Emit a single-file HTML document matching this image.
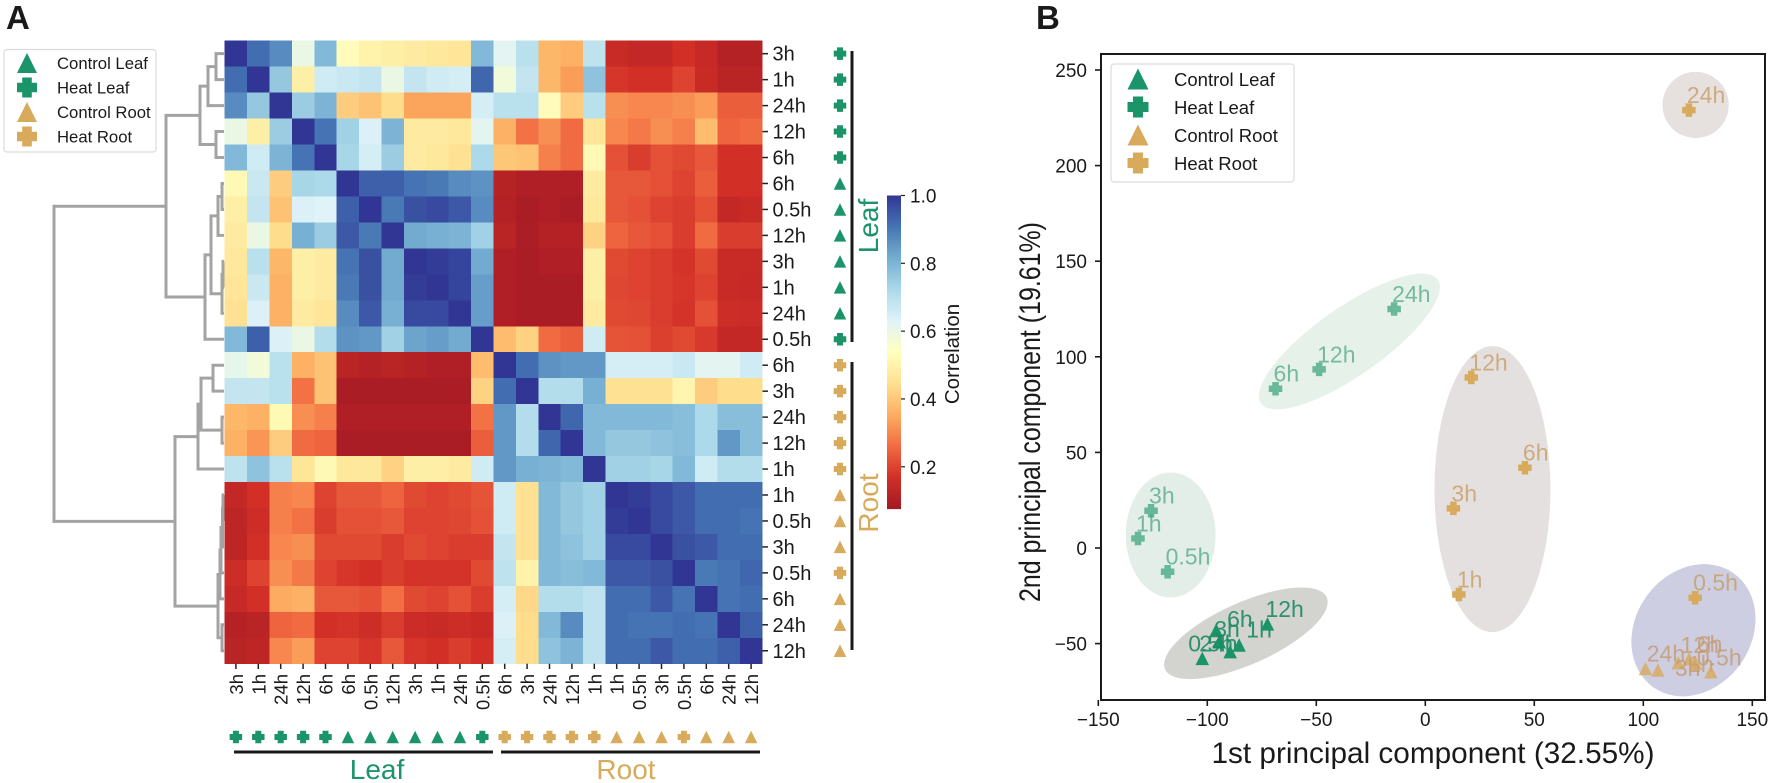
<!DOCTYPE html>
<html lang="en">
<head>
<meta charset="utf-8">
<title>Correlation heatmap and PCA</title>
<style>
html,body{margin:0;padding:0;background:#fff;}
svg{display:block;font-family:"Liberation Sans",sans-serif;}
text{fill:#1a1a1a;}
</style>
</head>
<body>
<svg id="figure" xmlns="http://www.w3.org/2000/svg" width="1772" height="783" viewBox="0 0 1772 783">
  <rect x="0" y="0" width="1772" height="783" fill="#fff"/>
  <text x="6" y="29" font-size="33" font-weight="bold">A</text>
  <text x="1036" y="29" font-size="33" font-weight="bold">B</text>

  <g id="dendrogram" fill="none" stroke="#a3a3a3" stroke-width="3"></g>
  <g id="heatmap" shape-rendering="crispEdges"></g>
  <g id="heatAxes"></g>

  <rect x="850.5" y="51" width="3" height="291" fill="#1a1a1a"/>
  <rect x="850.5" y="362" width="3" height="288" fill="#1a1a1a"/>
  <text transform="translate(878,226) rotate(-90)" text-anchor="middle" font-size="28" style="fill:#1b9469">Leaf</text>
  <text transform="translate(878,503) rotate(-90)" text-anchor="middle" font-size="28" style="fill:#d8aa5c">Root</text>
  <rect x="234" y="750.5" width="259" height="3" fill="#1a1a1a"/>
  <rect x="501" y="750.5" width="259" height="3" fill="#1a1a1a"/>
  <text x="377" y="779" text-anchor="middle" font-size="28" style="fill:#1b9469">Leaf</text>
  <text x="626" y="779" text-anchor="middle" font-size="28" style="fill:#d8aa5c">Root</text>

  <g id="colorbar"></g>
  <text transform="translate(959,354) rotate(-90)" text-anchor="middle" font-size="20.5">Correlation</text>

  <g>
    <rect x="4" y="49.5" width="152" height="102.5" rx="3" fill="#fff" stroke="#dcdcdc" stroke-width="1.2"/>
    <g id="legendAMarkers"></g>
    <text x="57" y="69" font-size="16.7">Control Leaf</text>
    <text x="57" y="93.5" font-size="16.7">Heat Leaf</text>
    <text x="57" y="118" font-size="16.7">Control Root</text>
    <text x="57" y="142.5" font-size="16.7">Heat Root</text>
  </g>

  <g id="pcaEllipses"></g>
  <g id="pcaPoints"></g>
  <rect x="1101" y="54" width="664" height="646" fill="none" stroke="#1a1a1a" stroke-width="2"/>
  <g id="pcaAxes"></g>
  <text x="1433" y="763" text-anchor="middle" font-size="30" textLength="443" lengthAdjust="spacingAndGlyphs">1st principal component (32.55%)</text>
  <text transform="translate(1040,412) rotate(-90)" text-anchor="middle" font-size="30" textLength="380" lengthAdjust="spacingAndGlyphs">2nd principal component (19.61%)</text>

  <g>
    <rect x="1111" y="64" width="183" height="118" rx="3" fill="#fff" fill-opacity="0.85" stroke="#dcdcdc" stroke-width="1.2"/>
    <g id="legendBMarkers"></g>
    <text x="1174" y="86" font-size="18.5">Control Leaf</text>
    <text x="1174" y="114" font-size="18.5">Heat Leaf</text>
    <text x="1174" y="142" font-size="18.5">Control Root</text>
    <text x="1174" y="170" font-size="18.5">Heat Root</text>
  </g>
</svg>

<script>
/* ---------- heatmap data ---------- */
const sampleLabels = ["3h","1h","24h","12h","6h","6h","0.5h","12h","3h","1h","24h","0.5h","6h","3h","24h","12h","1h","1h","0.5h","3h","0.5h","6h","24h","12h"];
const sampleGroups = ["HL","HL","HL","HL","HL","CL","CL","CL","CL","CL","CL","HL","HR","HR","HR","HR","HR","CR","CR","CR","HR","CR","CR","CR"];
const correlation = [
[1.00,.92,.87,.60,.79,.53,.50,.49,.48,.47,.46,.79,.62,.70,.37,.36,.69,.15,.14,.14,.17,.145,.11,.11],
[.92,1.00,.76,.49,.66,.67,.68,.60,.68,.66,.65,.93,.58,.68,.37,.33,.77,.18,.17,.17,.20,.15,.12,.12],
[.87,.76,1.00,.75,.80,.41,.39,.44,.34,.34,.34,.65,.70,.70,.53,.41,.70,.31,.30,.30,.31,.33,.24,.24],
[.60,.49,.75,1.00,.91,.74,.64,.80,.48,.48,.47,.62,.36,.27,.31,.26,.46,.30,.28,.31,.29,.38,.25,.26],
[.79,.66,.80,.91,1.00,.73,.65,.75,.48,.47,.45,.72,.40,.39,.29,.26,.52,.22,.19,.22,.21,.23,.17,.17],
[.52,.67,.41,.73,.72,1.00,.94,.94,.91,.90,.87,.86,.115,.10,.10,.10,.48,.23,.23,.22,.20,.24,.17,.17],
[.49,.68,.39,.64,.63,.94,1.00,.90,.96,.97,.95,.87,.11,.09,.10,.09,.47,.23,.22,.20,.19,.22,.14,.15],
[.48,.60,.44,.81,.75,.95,.90,1.00,.82,.81,.80,.74,.12,.095,.11,.11,.42,.25,.23,.22,.19,.26,.19,.19],
[.47,.70,.37,.49,.48,.91,.96,.82,1.00,.99,.98,.82,.10,.09,.10,.10,.49,.21,.20,.19,.175,.21,.15,.15],
[.46,.67,.36,.49,.48,.90,.96,.82,.99,1.00,.98,.84,.10,.09,.09,.09,.49,.205,.20,.19,.18,.20,.15,.145],
[.45,.64,.36,.48,.46,.87,.95,.81,.97,.97,1.00,.84,.10,.09,.09,.09,.48,.21,.205,.19,.175,.22,.16,.155],
[.79,.94,.64,.60,.71,.86,.85,.74,.83,.84,.82,1.00,.38,.42,.26,.24,.66,.225,.22,.195,.21,.185,.14,.14],
[.61,.58,.70,.36,.39,.12,.11,.12,.11,.10,.10,.38,1.00,.92,.86,.85,.85,.65,.65,.65,.67,.62,.62,.66],
[.68,.68,.70,.27,.39,.09,.09,.09,.09,.09,.09,.42,.92,1.00,.71,.71,.81,.45,.45,.45,.51,.41,.44,.44],
[.37,.36,.52,.31,.29,.10,.10,.10,.10,.10,.10,.27,.85,.71,1.00,.93,.79,.79,.79,.79,.78,.72,.78,.78],
[.36,.32,.41,.26,.25,.09,.09,.09,.09,.09,.09,.24,.85,.71,.93,1.00,.79,.76,.76,.77,.78,.72,.85,.78],
[.69,.77,.70,.46,.52,.47,.47,.42,.49,.49,.48,.66,.85,.81,.80,.79,1.00,.74,.74,.73,.79,.66,.71,.71],
[.14,.17,.29,.30,.20,.23,.23,.25,.21,.20,.21,.225,.66,.45,.79,.76,.74,1.00,.99,.97,.95,.92,.92,.92],
[.13,.16,.29,.27,.19,.22,.22,.23,.20,.20,.205,.22,.66,.45,.79,.76,.74,.99,1.00,.97,.95,.92,.92,.91],
[.13,.17,.30,.31,.21,.21,.21,.19,.21,.20,.19,.19,.68,.45,.79,.77,.74,.97,.97,1.00,.96,.95,.92,.92],
[.16,.20,.31,.28,.20,.18,.17,.19,.175,.175,.175,.21,.69,.50,.79,.78,.79,.95,.95,.96,1.00,.90,.91,.93],
[.145,.17,.35,.36,.23,.23,.22,.265,.21,.20,.22,.19,.65,.43,.71,.71,.69,.92,.92,.95,.91,1.00,.91,.92],
[.11,.12,.25,.26,.17,.175,.16,.19,.155,.15,.16,.15,.64,.44,.79,.87,.69,.92,.91,.91,.92,.91,1.00,.94],
[.12,.13,.30,.33,.20,.20,.18,.23,.18,.17,.19,.17,.65,.44,.77,.80,.69,.92,.92,.95,.92,.92,.94,1.00]
];
const colorbarTicks = [0.2,0.4,0.6,0.8,1.0];
const rdYlBuStops = ["#a31a24","#d22f27","#f26c42","#fdae61","#fee090","#ffffbf","#e0f3f8","#abd9e9","#74add1","#4575b4","#313695"];
/* dendrogram: [merge distance, childA, childB]; integers are leaf rows */
const dendrogramTree = [170,
  [58,
    [24,[16,[8,0,1],2],[8,3,4]],
    [19,[13,[6,[2,5,6],7],[2,[1,8,9],10]],11]],
  [49,
    [26,[23,[11,12,13],[2,14,15]],16],
    [6,[4,[3,[1.5,[1,17,18],19],20],21],[2,22,23]]]];

/* ---------- PCA data ---------- */
const ctrlLeafLabels = ["0.5h","24h","3h","1h","6h","12h"];
const ctrlLeafPC1 = [-102.3,-94.5,-95.9,-89.5,-85.4,-72.4];
const ctrlLeafPC2 = [-57.7,-49,-42.9,-54.2,-50.7,-39.7];
const ctrlLeafNudgePC1 = [-5.5,-8.3,0,8.3,-4.6,0];
const ctrlLeafNudgePC2 = [0,-8.9,-7.3,3.7,5.8,0];
const heatLeafLabels = ["3h","1h","0.5h","24h","12h","6h"];
const heatLeafPC1 = [-125.8,-131.8,-118.2,-14.3,-48.7,-68.7];
const heatLeafPC2 = [19.5,5,-12.4,125,93.4,83.3];
const ctrlRootLabels = ["24h","1h","12h","6h","0.5h","3h"];
const ctrlRootPC1 = [101,106.7,116,121,124,131];
const ctrlRootPC2 = [-63,-63.8,-60,-58,-60.3,-64.7];
const ctrlRootNudgePC1 = [1.5,14.7,2,4.5,1.5,-15.6];
const ctrlRootNudgePC2 = [0,-4.7,1.5,0,-4.7,-5.8];
const heatRootLabels = ["24h","12h","6h","3h","1h","0.5h"];
const heatRootPC1 = [120.9,21.1,45.7,12.9,15.4,123.8];
const heatRootPC2 = [229,89.2,42,20.7,-24.3,-26];
const noNudge = [0,0,0,0,0,0];
const ellipseNames = ["heat-leaf-early","heat-leaf-late","control-leaf","heat-root-mid","heat-root-24h","control-root"];
const ellipseCenterPC1 = [-116.8,-34.8,-82.3,30.8,124,123];
const ellipseCenterPC2 = [6.8,108,-44.6,30.8,231.7,-43];
const ellipseRadiusPC1 = [20.6,49.5,40.6,26.6,15.2,32];
const ellipseRadiusPC2 = [32.7,17.8,16.2,74.8,17.3,30.3];
const ellipseTiltDeg = [0,-35,-24,0,0,-55];
const ellipseFills = ["#e2eee7","#e6f1e9","#d3d4cf","#e5e0e0","#e6e0de","#cdcee2"];
const pcaXTicks = [-150,-100,-50,0,50,100,150];
const pcaYTicks = [-50,0,50,100,150,200,250];

/* ---------- geometry ---------- */
const SVG_NS = "http://www.w3.org/2000/svg";
const heatLeft = 224.7, heatTop = 40.7, cellW = 22.4, cellH = 25.96;
const vMin = 0.077, vMax = 1.0;
const green = "#1b9469", tan = "#d8aa5c";
const cbLeft = 887, cbWidth = 14, cbTop = 195.5, cbBottom = 508.5;
const pcaX = v => 1425.3 + v * 2.18;
const pcaY = v => 548 - v * 1.912;
const pcaScaleX = 2.18, pcaScaleY = 1.912;
const rowCenter = i => heatTop + cellH * (i + 0.5);
const colCenter = i => heatLeft + cellW * (i + 0.5);
const cbY = v => cbTop + (vMax - v) * (cbBottom - cbTop) / (vMax - vMin);
const dendroX = d => 224 - d;

function svgNode(tag, parent) {
  const el = document.createElementNS(SVG_NS, tag);
  parent.appendChild(el);
  return el;
}
function hexToRgb(h) {
  return [parseInt(h.slice(1,3),16), parseInt(h.slice(3,5),16), parseInt(h.slice(5,7),16)];
}
function heatColor(v) {
  const t = Math.max(0, Math.min(1, (v - vMin) / (vMax - vMin))) * (rdYlBuStops.length - 1);
  const i = Math.min(Math.floor(t), rdYlBuStops.length - 2);
  const f = t - i;
  const a = hexToRgb(rdYlBuStops[i]), b = hexToRgb(rdYlBuStops[i + 1]);
  return "rgb(" + a.map((c, k) => Math.round(c + (b[k] - c) * f)).join(",") + ")";
}
function drawMarker(parent, kind, cx, cy, size, color, opacity, name) {
  let el;
  if (kind === "triangle") {
    el = svgNode("polygon", parent);
    const h = size * 0.5;
    el.setAttribute("points", [[cx, cy - h], [cx + h, cy + h], [cx - h, cy + h]].map(p => p.join(",")).join(" "));
  } else {
    el = svgNode("path", parent);
    const h = size * 0.5, w = size * 0.24;
    el.setAttribute("d", "M" + (cx - w) + " " + (cy - h) + "H" + (cx + w) + "V" + (cy - w) + "H" + (cx + h) + "V" + (cy + w) + "H" + (cx + w) + "V" + (cy + h) + "H" + (cx - w) + "V" + (cy + w) + "H" + (cx - h) + "V" + (cy - w) + "H" + (cx - w) + "Z");
  }
  el.setAttribute("fill", color);
  el.setAttribute("fill-opacity", opacity);
  
  
  return el;
}
const groupKind = g => g[0] === "C" ? "triangle" : "plus";
const groupColor = g => g[1] === "L" ? green : tan;

/* ---------- heatmap cells ---------- */
const heatG = document.getElementById("heatmap");
correlation.forEach((row, r) => {
  row.forEach((v, c) => {
    const cell = svgNode("rect", heatG);
    cell.setAttribute("x", heatLeft + c * cellW);
    cell.setAttribute("y", heatTop + r * cellH);
    cell.setAttribute("width", cellW + 0.4);
    cell.setAttribute("height", cellH + 0.4);
    cell.setAttribute("fill", heatColor(v));
    
    
  });
});

/* ---------- heatmap tick labels, ticks and group markers ---------- */
const heatAxes = document.getElementById("heatAxes");
sampleLabels.forEach((label, i) => {
  const rowTick = svgNode("line", heatAxes);
  rowTick.setAttribute("x1", 762.5);
  rowTick.setAttribute("x2", 768);
  rowTick.setAttribute("y1", rowCenter(i));
  rowTick.setAttribute("y2", rowCenter(i));
  rowTick.setAttribute("stroke", "#222");
  rowTick.setAttribute("stroke-width", 1.5);
  
  

  const rowText = svgNode("text", heatAxes);
  rowText.setAttribute("x", 772.5);
  rowText.setAttribute("y", rowCenter(i) + 7);
  rowText.setAttribute("font-size", 20);
  rowText.textContent = label;
  
  

  const colTick = svgNode("line", heatAxes);
  colTick.setAttribute("x1", colCenter(i));
  colTick.setAttribute("x2", colCenter(i));
  colTick.setAttribute("y1", 663.7);
  colTick.setAttribute("y2", 669);
  colTick.setAttribute("stroke", "#222");
  colTick.setAttribute("stroke-width", 1.5);
  
  

  const colText = svgNode("text", heatAxes);
  colText.setAttribute("transform", "translate(" + (colCenter(i) + 7) + ",674) rotate(-90)");
  colText.setAttribute("text-anchor", "end");
  colText.setAttribute("font-size", 18.5);
  colText.textContent = label;
  
  

  const g = sampleGroups[i];
  drawMarker(heatAxes, groupKind(g), 840, rowCenter(i), 12.5, groupColor(g), 1, "row-group-marker");
  drawMarker(heatAxes, groupKind(g), colCenter(i), 737, 12.5, groupColor(g), 1, "column-group-marker");
});

/* ---------- dendrogram ---------- */
const dendroG = document.getElementById("dendrogram");
function drawNode(node) {
  if (typeof node === "number") return { x: dendroX(0), y: rowCenter(node) };
  const a = drawNode(node[1]);
  const b = drawNode(node[2]);
  const x = dendroX(node[0]);
  const link = svgNode("path", dendroG);
  link.setAttribute("d", "M" + a.x + " " + a.y + "H" + x + "V" + b.y + "H" + b.x);
  
  
  return { x: x, y: (a.y + b.y) / 2 };
}
drawNode(dendrogramTree);

/* ---------- colorbar ---------- */
const cbG = document.getElementById("colorbar");
const cbSteps = 120;
for (let i = 0; i < cbSteps; i++) {
  const v0 = vMax - (vMax - vMin) * i / cbSteps;
  const v1 = vMax - (vMax - vMin) * (i + 1) / cbSteps;
  const band = svgNode("rect", cbG);
  band.setAttribute("x", cbLeft);
  band.setAttribute("y", cbY(v0));
  band.setAttribute("width", cbWidth);
  band.setAttribute("height", cbY(v1) - cbY(v0) + 0.6);
  band.setAttribute("fill", heatColor((v0 + v1) / 2));
  
  
}
colorbarTicks.forEach(v => {
  const tick = svgNode("line", cbG);
  tick.setAttribute("x1", cbLeft + cbWidth);
  tick.setAttribute("x2", cbLeft + cbWidth + 4);
  tick.setAttribute("y1", cbY(v));
  tick.setAttribute("y2", cbY(v));
  tick.setAttribute("stroke", "#222");
  tick.setAttribute("stroke-width", 1.2);
  
  

  const label = svgNode("text", cbG);
  label.setAttribute("x", 910);
  label.setAttribute("y", cbY(v) + 7);
  label.setAttribute("font-size", 19);
  label.textContent = v.toFixed(1);
  
  
});

/* ---------- legend markers ---------- */
const legendKinds = ["CL","HL","CR","HR"];
const legendA = document.getElementById("legendAMarkers");
legendKinds.forEach((g, i) => {
  drawMarker(legendA, groupKind(g), 27, 63 + i * 24.5, 20, groupColor(g), 1, "legend-marker");
});
const legendB = document.getElementById("legendBMarkers");
legendKinds.forEach((g, i) => {
  drawMarker(legendB, groupKind(g), 1138, 79 + i * 28, 21, groupColor(g), 1, "pca-legend-marker");
});

/* ---------- PCA ellipses ---------- */
const ellG = document.getElementById("pcaEllipses");
ellipseNames.forEach((name, i) => {
  const e = svgNode("ellipse", ellG);
  const cx = pcaX(ellipseCenterPC1[i]);
  const cy = pcaY(ellipseCenterPC2[i]);
  e.setAttribute("cx", cx);
  e.setAttribute("cy", cy);
  e.setAttribute("rx", ellipseRadiusPC1[i] * pcaScaleX);
  e.setAttribute("ry", ellipseRadiusPC2[i] * pcaScaleY);
  e.setAttribute("transform", "rotate(" + ellipseTiltDeg[i] + " " + cx + " " + cy + ")");
  e.setAttribute("fill", ellipseFills[i]);
  
  
});

/* ---------- PCA points and labels ---------- */
const ptsG = document.getElementById("pcaPoints");
function drawSeries(labels, xs, ys, nudgeX, nudgeY, group, markerOpacity, textColor, textOpacity, seriesName) {
  labels.forEach((label, i) => {
    const px = pcaX(xs[i]);
    const py = pcaY(ys[i]);
    drawMarker(ptsG, groupKind(group), px, py, 13.5, groupColor(group), markerOpacity, seriesName + "-point");
    const t = svgNode("text", ptsG);
    t.setAttribute("x", pcaX(xs[i] + nudgeX[i]) - 2);
    t.setAttribute("y", pcaY(ys[i] + nudgeY[i]) - 7);
    t.setAttribute("font-size", 23);
    t.setAttribute("style", "fill:" + textColor + ";fill-opacity:" + textOpacity);
    t.textContent = label;
    
    
  });
}
drawSeries(heatRootLabels, heatRootPC1, heatRootPC2, noNudge, noNudge, "HR", 1, "#c49a5e", 0.75, "heat-root");
drawSeries(ctrlRootLabels, ctrlRootPC1, ctrlRootPC2, ctrlRootNudgePC1, ctrlRootNudgePC2, "CR", 0.8, "#c49a6e", 0.8, "control-root");
drawSeries(heatLeafLabels, heatLeafPC1, heatLeafPC2, noNudge, noNudge, "HL", 0.62, "#3f9f7c", 0.68, "heat-leaf");
drawSeries(ctrlLeafLabels, ctrlLeafPC1, ctrlLeafPC2, ctrlLeafNudgePC1, ctrlLeafNudgePC2, "CL", 1, "#1b8a64", 0.9, "control-leaf");

/* ---------- PCA axes ---------- */
const pcaAxes = document.getElementById("pcaAxes");
pcaXTicks.forEach(v => {
  const tick = svgNode("line", pcaAxes);
  tick.setAttribute("x1", pcaX(v));
  tick.setAttribute("x2", pcaX(v));
  tick.setAttribute("y1", 700);
  tick.setAttribute("y2", 706);
  tick.setAttribute("stroke", "#1a1a1a");
  tick.setAttribute("stroke-width", 1.6);
  
  

  const label = svgNode("text", pcaAxes);
  label.setAttribute("x", pcaX(v));
  label.setAttribute("y", 726);
  label.setAttribute("text-anchor", "middle");
  label.setAttribute("font-size", 19);
  label.textContent = String(v).replace("-", "\u2212");
  
  
});
pcaYTicks.forEach(v => {
  const tick = svgNode("line", pcaAxes);
  tick.setAttribute("x1", 1095);
  tick.setAttribute("x2", 1101);
  tick.setAttribute("y1", pcaY(v));
  tick.setAttribute("y2", pcaY(v));
  tick.setAttribute("stroke", "#1a1a1a");
  tick.setAttribute("stroke-width", 1.6);
  
  

  const label = svgNode("text", pcaAxes);
  label.setAttribute("x", 1087);
  label.setAttribute("y", pcaY(v) + 7);
  label.setAttribute("text-anchor", "end");
  label.setAttribute("font-size", 19);
  label.textContent = String(v).replace("-", "\u2212");
  
  
});
</script>
</body>
</html>
